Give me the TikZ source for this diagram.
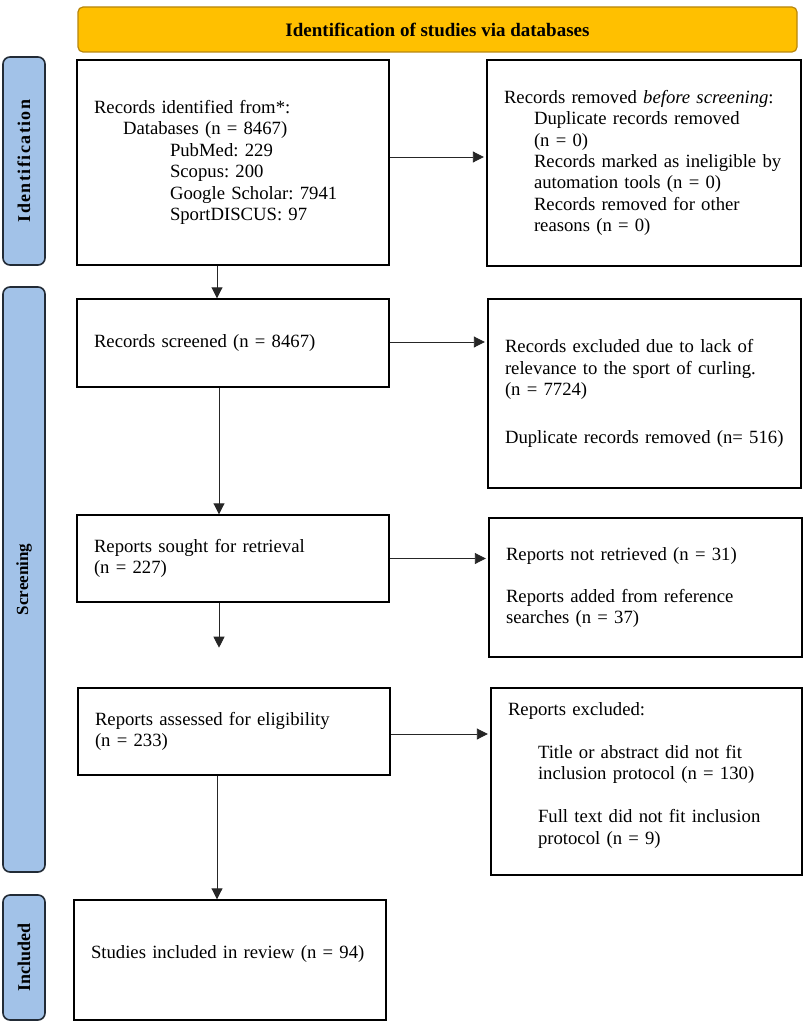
\documentclass[tikz,border=0pt]{standalone}
\usepackage{fontspec}
\setmainfont{Liberation Serif}
\usetikzlibrary{arrows.meta,calc}
\definecolor{gold}{HTML}{FFC000}
\definecolor{goldline}{HTML}{B8860B}
\definecolor{barfill}{HTML}{A2C2E8}
\definecolor{barline}{HTML}{222B36}
\frenchspacing
\begin{document}
\begin{tikzpicture}[x=1pt,y=-1pt,
  box/.style={draw=black, line width=1.4pt, rectangle, inner xsep=17pt, inner ysep=0pt,
    align=left, font=\fontsize{18.7}{21.4}\selectfont, anchor=center},
  bar/.style={draw=barline, fill=barfill, line width=1.6pt, rounded corners=7pt,
    rotate=90, minimum height=42pt, inner sep=0pt},
  bartext/.style={font=\bfseries\fontsize{18}{20}\selectfont},
  arr/.style={draw=black!85, line width=0.9pt, -{Triangle[length=11pt,width=11pt]}},
  harr/.style={arr, shorten >=2.5pt}]
\useasboundingbox (0,0) rectangle (809,1027);

% banner
\node[draw=goldline, fill=gold, rounded corners=5pt, line width=1.2pt,
  minimum width=719pt, minimum height=45pt, inner sep=0pt,
  font=\bfseries\fontsize{19}{21}\selectfont] (banner) at (437.5,29.5)
  {Identification of studies via databases};

% side bars
\node[bar, minimum width=208pt, bartext] (ident) at (24,161)
  {\addfontfeature{LetterSpace=8}Identification};
\node[bar, minimum width=585pt, bartext, font=\bfseries\fontsize{17}{19}\selectfont] (scr) at (24,579.5) {Screening};
\node[bar, minimum width=125pt, bartext] (incl) at (24,957.5) {Included};

% boxes
\node[box, minimum width=312pt, minimum height=205pt, text width=278pt] (b1) at (233,162.5)
  {Records identified from*:\\
   \hspace*{29pt}Databases (n = 8467)\\
   \hspace*{76pt}PubMed: 229\\
   \hspace*{76pt}Scopus: 200\\
   \hspace*{76pt}Google Scholar: 7941\\
   \hspace*{76pt}SportDISCUS: 97};

\node[box, minimum width=314pt, minimum height=206pt, text width=280pt] (b2) at (644,163)
  {Records removed \textit{before screening}:\\
   \hspace*{30pt}Duplicate records removed\\
   \hspace*{30pt}(n = 0)\\
   \hspace*{30pt}Records marked as ineligible by\\
   \hspace*{30pt}automation tools (n = 0)\\
   \hspace*{30pt}Records removed for other\\
   \hspace*{30pt}reasons (n = 0)};

\node[box, minimum width=312pt, minimum height=88pt, text width=278pt] (b3) at (233,343)
  {Records screened (n = 8467)};

\node[box, minimum width=313pt, minimum height=189pt, text width=279pt] (b4) at (644.5,393.5)
  {Records excluded due to lack of\\
   relevance to the sport of curling.\\
   (n = 7724)\\[26pt]
   Duplicate records removed (n= 516)};

\node[box, minimum width=312pt, minimum height=87pt, text width=278pt] (b5) at (233,558.5)
  {Reports sought for retrieval\\(n = 227)};

\node[box, minimum width=313pt, minimum height=139pt, text width=279pt] (b6) at (645.5,587.5)
  {Reports not retrieved (n = 31)\\[21pt]
   Reports added from reference\\
   searches (n = 37)};

\node[box, minimum width=312pt, minimum height=87pt, text width=278pt] (b7) at (234,731.5)
  {Reports assessed for eligibility\\(n = 233)};

\node[box, minimum width=311pt, minimum height=187pt, text width=277pt] (b8) at (646.5,781.5)
  {Reports excluded:\\[21pt]
   \hspace*{30pt}Title or abstract did not fit\\
   \hspace*{30pt}inclusion protocol (n = 130)\\[22pt]
   \hspace*{30pt}Full text did not fit inclusion\\
   \hspace*{30pt}protocol (n = 9)\\[-5.4pt]\mbox{}};

\node[box, minimum width=312pt, minimum height=120pt, text width=278pt] (b9) at (230,960)
  {Studies included in review (n = 94)\\[-5.4pt]\mbox{}};

% connectors
\coordinate (a1) at ($(b1.east)+(0,-5.5)$);
\draw[harr] (a1) -- (a1 -| b2.west);
\coordinate (a2) at ($(b1.south)+(-16,0)$);
\draw[arr] (a2) -- (a2 |- b3.north);
\coordinate (a3) at ($(b3.east)+(0,-1)$);
\draw[harr] (a3) -- (a3 -| b4.west);
\coordinate (a4) at ($(b3.south)+(-14,0)$);
\draw[arr] (a4) -- (a4 |- b5.north);
\draw[harr] (b5.east) -- (b5.east -| b6.west);
\coordinate (a5) at ($(b5.south)+(-14,0)$);
\coordinate (e5) at ($(a5)+(0,45)$);
\draw[arr] (a5) -- (e5);
\coordinate (a6) at ($(b7.east)+(0,2.5)$);
\draw[harr] (a6) -- (a6 -| b8.west);
\coordinate (a7) at ($(b7.south)+(-17,0)$);
\draw[arr] (a7) -- (a7 |- b9.north);
\end{tikzpicture}
\end{document}
